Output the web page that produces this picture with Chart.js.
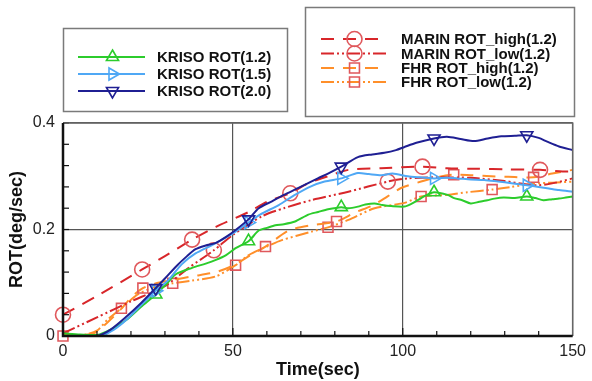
<!DOCTYPE html>
<html>
<head>
<meta charset="utf-8">
<script src="https://cdn.jsdelivr.net/npm/chart.js@4.4.1/dist/chart.umd.min.js"></script>
<style>
html, body { margin: 0; padding: 0; background: #fff; }
canvas { display: block; }
</style>
</head>
<body>
<canvas id="rotChart" width="592" height="381"></canvas>
<script>
// time (sec) / ROT (deg/sec), one pair of arrays per curve
let kriso12Time = [0, 5, 10, 14, 18.6, 23, 27.3, 30.8, 33.2, 38, 42, 45, 48, 50.8, 54.6, 57.6, 60, 62.5, 65, 68.3, 72.2, 75.1, 78, 81.9, 84, 86.8, 89, 91.7, 94, 96.6, 100.5, 102.5, 104.4, 106.5, 109.2, 113.2, 115.1, 117.5, 120, 122.5, 124.9, 127, 129.7, 133, 136.5, 139, 141.4, 144, 146, 148, 150]
let kriso12Rot = [0.005, 0.003, 0.002, 0.012, 0.03, 0.055, 0.078, 0.1, 0.116, 0.128, 0.136, 0.143, 0.152, 0.165, 0.178, 0.198, 0.203, 0.208, 0.21, 0.215, 0.228, 0.233, 0.238, 0.242, 0.24, 0.243, 0.247, 0.249, 0.246, 0.244, 0.243, 0.248, 0.255, 0.263, 0.27, 0.265, 0.259, 0.255, 0.249, 0.252, 0.255, 0.258, 0.26, 0.259, 0.262, 0.259, 0.255, 0.257, 0.258, 0.26, 0.262]
let kriso12Marks = [27.3, 54.6, 81.9, 109.2, 136.5]

let kriso15Time = [0, 11, 15, 18.6, 23, 27.3, 31, 35, 39, 44, 48, 51, 54.6, 58, 63.5, 68, 73, 77, 81.9, 86.8, 90, 93.7, 97, 101.5, 105, 109.2, 113, 116, 120, 124, 128, 132, 136.5, 140, 143, 146, 150]
let kriso15Rot = [0, 0, 0.012, 0.03, 0.058, 0.085, 0.105, 0.135, 0.155, 0.171, 0.185, 0.197, 0.213, 0.228, 0.246, 0.264, 0.281, 0.29, 0.296, 0.306, 0.304, 0.302, 0.305, 0.3, 0.298, 0.296, 0.297, 0.296, 0.294, 0.293, 0.29, 0.287, 0.283, 0.28, 0.277, 0.274, 0.271]
let kriso15Marks = [27.3, 54.6, 81.9, 109.2, 136.5]

let kriso20Time = [0, 10, 14, 18.6, 23, 27.3, 30, 33.5, 36.5, 39, 42, 45, 48, 51, 54.6, 57.6, 61.5, 65, 69.3, 75, 78, 81.9, 86.8, 91, 94.6, 98, 100.5, 104, 109.2, 113, 117, 121, 125, 129, 133, 136.5, 140, 142.5, 146, 150]
let kriso20Rot = [0, 0, 0.012, 0.036, 0.062, 0.09, 0.108, 0.132, 0.15, 0.163, 0.17, 0.175, 0.186, 0.2, 0.219, 0.24, 0.253, 0.265, 0.278, 0.296, 0.305, 0.318, 0.336, 0.341, 0.344, 0.349, 0.355, 0.363, 0.371, 0.374, 0.37, 0.366, 0.371, 0.375, 0.376, 0.377, 0.372, 0.365, 0.356, 0.349]
let kriso20Marks = [27.3, 54.6, 81.9, 109.2, 136.5]

let marinHighTime = [0, 10, 23.3, 30, 38, 45, 54.7, 60, 66.9, 72.2, 78, 84, 93.6, 105.8, 113, 122, 130.7, 140.4, 147, 150]
let marinHighRot = [0.04, 0.075, 0.125, 0.15, 0.181, 0.205, 0.233, 0.252, 0.268, 0.287, 0.3, 0.312, 0.315, 0.318, 0.315, 0.314, 0.313, 0.312, 0.309, 0.309]
let marinHighMarks = [0, 23.3, 38, 66.9, 105.8, 140.4]

let marinLowTime = [0, 10, 20, 29.8, 37, 44.4, 50, 58.6, 65, 73, 84, 95.6, 101.5, 110, 120, 130, 136, 140, 145, 150]
let marinLowRot = [0.005, 0.035, 0.065, 0.093, 0.128, 0.161, 0.19, 0.225, 0.24, 0.255, 0.271, 0.29, 0.296, 0.298, 0.297, 0.291, 0.285, 0.283, 0.288, 0.296]
let marinLowMarks = [44.4, 95.6]

let fhrHighTime = [0, 5, 9, 13, 17, 20, 23.5, 28, 33, 38, 45, 50, 54.7, 59.6, 66.4, 73, 80.5, 86, 91, 95, 99.5, 105.4, 110, 115, 120, 126, 131, 138.5, 144, 150]
let fhrHighRot = [0, 0.002, 0.005, 0.025, 0.05, 0.072, 0.09, 0.1, 0.106, 0.112, 0.12, 0.132, 0.15, 0.168, 0.198, 0.208, 0.215, 0.232, 0.245, 0.26, 0.278, 0.29, 0.298, 0.303, 0.302, 0.3, 0.299, 0.298, 0.305, 0.312]
let fhrHighMarks = [0, 23.5, 59.6, 80.5, 115, 138.5]

let fhrLowTime = [0, 6, 10, 13, 17.2, 22, 27, 32.3, 38, 45, 50.8, 54.7, 60, 64.4, 73.2, 78, 84, 91.7, 100.5, 105.4, 113, 119, 126.3, 132, 138.5, 144, 150]
let fhrLowRot = [0.002, 0.002, 0.01, 0.03, 0.052, 0.078, 0.092, 0.099, 0.104, 0.112, 0.133, 0.152, 0.168, 0.18, 0.196, 0.204, 0.218, 0.24, 0.25, 0.262, 0.265, 0.27, 0.275, 0.28, 0.286, 0.288, 0.29]
let fhrLowMarks = [17.2, 32.3, 50.8, 78, 105.4, 126.3]

let xTicks = [0, 50, 100, 150]
let yTicks = [0, 0.2, 0.4]

let color_green = '#2ccc2c'
let color_lightblue = '#4fa8f5'
let color_navy = '#1f1f93'
let color_red = '#d8262a'
let color_orange = '#ff8f2a'
let color_mark_red = '#e0585c'

let dashLong = [13, 9]
let dashDotDot = [13, 3, 2, 3, 2, 3]

let makeSeries = function (label, times, rots, marks, opts) {
    return Object.assign({
        label: label,
        data: times.map((t, i) => ({ x: t, y: rots[i] })),
        borderWidth: 2,
        tension: 0.25,
        fill: false,
        clip: false,
        pointBackgroundColor: 'rgba(0,0,0,0)',
        pointBorderWidth: 1.6,
        pointRadius: ctx => (ctx.raw && marks.includes(ctx.raw.x)) ? opts.markSize : 0,
        pointHoverRadius: 0
    }, opts);
};

let datasets = [
    makeSeries('KRISO ROT(2.0)', kriso20Time, kriso20Rot, kriso20Marks,
        { borderColor: color_navy, pointBorderColor: color_navy, pointStyle: 'triangle', pointRotation: 180, markSize: 7, order: 1, box: 'left', row: 2 }),
    makeSeries('KRISO ROT(1.5)', kriso15Time, kriso15Rot, kriso15Marks,
        { borderColor: color_lightblue, pointBorderColor: color_lightblue, pointStyle: 'triangle', pointRotation: 90, markSize: 7, order: 2, box: 'left', row: 1 }),
    makeSeries('KRISO ROT(1.2)', kriso12Time, kriso12Rot, kriso12Marks,
        { borderColor: color_green, pointBorderColor: color_green, pointStyle: 'triangle', pointRotation: 0, markSize: 7, order: 3, box: 'left', row: 0 }),
    makeSeries('MARIN ROT_high(1.2)', marinHighTime, marinHighRot, marinHighMarks,
        { borderColor: color_red, borderDash: dashLong, pointBorderColor: color_mark_red, pointStyle: 'circle', markSize: 7.5, order: 4, box: 'right', row: 0 }),
    makeSeries('MARIN ROT_low(1.2)', marinLowTime, marinLowRot, marinLowMarks,
        { borderColor: color_red, borderDash: dashDotDot, pointBorderColor: color_mark_red, pointStyle: 'circle', markSize: 7.5, order: 5, box: 'right', row: 1 }),
    makeSeries('FHR ROT_high(1.2)', fhrHighTime, fhrHighRot, fhrHighMarks,
        { borderColor: color_orange, borderDash: dashLong, pointBorderColor: color_mark_red, pointStyle: 'rect', markSize: 7, order: 6, box: 'right', row: 2 }),
    makeSeries('FHR ROT_low(1.2)', fhrLowTime, fhrLowRot, fhrLowMarks,
        { borderColor: color_orange, borderDash: dashDotDot, pointBorderColor: color_mark_red, pointStyle: 'rect', markSize: 7, order: 7, box: 'right', row: 3 })
];

// little marker painter for the legend boxes
let drawMark = function (ctx, style, rot, x, y, r, color) {
    ctx.save();
    ctx.translate(x, y);
    ctx.rotate(rot * Math.PI / 180);
    ctx.setLineDash([]);
    ctx.strokeStyle = color;
    ctx.lineWidth = 1.6;
    ctx.beginPath();
    if (style === 'circle') {
        ctx.arc(0, 0, r, 0, Math.PI * 2);
    } else if (style === 'rect') {
        let s = r * Math.SQRT1_2;
        ctx.rect(-s, -s, 2 * s, 2 * s);
    } else {
        ctx.moveTo(0, -r);
        ctx.lineTo(r * 0.866, r * 0.5);
        ctx.lineTo(-r * 0.866, r * 0.5);
        ctx.closePath();
    }
    ctx.stroke();
    ctx.restore();
};

let boxLegends = {
    id: 'boxLegends',
    afterDraw(chart) {
        let ctx = chart.ctx;
        ctx.save();
        ctx.strokeStyle = '#7a7a7a';
        ctx.lineWidth = 1.5;
        ctx.strokeRect(63.5, 28.5, 224, 83);
        ctx.strokeRect(305.5, 7.5, 269, 109);

        let boxes = {
            left: { x0: 78, x1: 145, tx: 157, rows: [57, 74, 91] },
            right: { x0: 321, x1: 386, tx: 401, rows: [39, 53.5, 68, 82] }
        };
        ctx.font = 'bold 15px Arial, "Liberation Sans", sans-serif';
        ctx.textBaseline = 'middle';
        ctx.textAlign = 'left';
        chart.data.datasets.forEach(ds => {
            let b = boxes[ds.box];
            let y = b.rows[ds.row];
            ctx.strokeStyle = ds.borderColor;
            ctx.lineWidth = 2;
            ctx.setLineDash(ds.borderDash || []);
            ctx.beginPath();
            ctx.moveTo(b.x0, y);
            ctx.lineTo(b.x1, y);
            ctx.stroke();
            drawMark(ctx, ds.pointStyle, ds.pointRotation || 0, (b.x0 + b.x1) / 2 + 1, y, ds.markSize, ds.pointBorderColor);
            ctx.setLineDash([]);
            ctx.fillStyle = '#111';
            ctx.fillText(ds.label, b.tx, y + 1);
        });
        ctx.restore();
    }
};

// frame and inward minor ticks, placed with the chart's own scales
let frameTicks = {
    id: 'frameTicks',
    afterDatasetsDraw(chart) {
        let ctx = chart.ctx;
        let a = chart.chartArea;
        let xs = chart.scales.x, ys = chart.scales.y;
        ctx.save();
        ctx.setLineDash([]);
        ctx.strokeStyle = '#111';
        ctx.lineWidth = 1.2;
        for (let t = 10; t < 150; t += 10) {
            let px = xs.getPixelForValue(t);
            let len = (t % 50 === 0) ? 8 : 5;
            ctx.beginPath();
            ctx.moveTo(px, a.bottom);
            ctx.lineTo(px, a.bottom - len);
            ctx.stroke();
        }
        for (let v = 0.04; v < 0.4; v += 0.04) {
            let py = ys.getPixelForValue(v);
            ctx.beginPath();
            ctx.moveTo(a.left, py);
            ctx.lineTo(a.left + 6, py);
            ctx.stroke();
        }
        ctx.strokeStyle = '#666';
        ctx.lineWidth = 1.5;
        ctx.beginPath();
        ctx.moveTo(a.left, a.top);
        ctx.lineTo(a.right, a.top);
        ctx.lineTo(a.right, a.bottom);
        ctx.stroke();
        ctx.strokeStyle = '#111';
        ctx.lineWidth = 2.5;
        ctx.beginPath();
        ctx.moveTo(a.left, a.top);
        ctx.lineTo(a.left, a.bottom);
        ctx.lineTo(a.right, a.bottom);
        ctx.stroke();
        ctx.restore();
    }
};

let tickFont = { family: 'Arial, "Liberation Sans", sans-serif', size: 16 };
let titleFont = { family: 'Arial, "Liberation Sans", sans-serif', size: 18, weight: 'bold' };

let ctx = document.getElementById('rotChart').getContext('2d');
window.rotChart = new Chart(ctx, {
    type: 'line',
    data: { datasets: datasets },
    options: {
        responsive: false,
        animation: false,
        events: [],
        layout: { padding: { left: 0, top: 123, right: 17, bottom: 0 } },
        plugins: {
            legend: { display: false },
            tooltip: { enabled: false }
        },
        scales: {
            x: {
                type: 'linear',
                min: 0,
                max: 150,
                afterBuildTicks: s => { s.ticks = xTicks.map(v => ({ value: v })); },
                afterFit: s => { s.height = 45; },
                grid: { color: '#555', lineWidth: 1.2, drawTicks: false },
                border: { display: false },
                ticks: { font: tickFont, color: '#222', padding: 6, maxRotation: 0 },
                title: { display: true, text: 'Time(sec)', font: titleFont, color: '#111', padding: { top: 3, bottom: 0 } }
            },
            y: {
                type: 'linear',
                min: 0,
                max: 0.4,
                afterBuildTicks: s => { s.ticks = yTicks.map(v => ({ value: v })); },
                afterFit: s => { s.width = 63; },
                grid: { color: '#555', lineWidth: 1.2, drawTicks: false },
                border: { display: false },
                ticks: { font: tickFont, color: '#222', padding: 8, callback: v => v === 0 ? '0' : v.toFixed(1) },
                title: { display: true, text: 'ROT(deg/sec)', font: titleFont, color: '#111', padding: { top: 6, bottom: 0 } }
            }
        }
    },
    plugins: [frameTicks, boxLegends]
});
</script>
</body>
</html>
